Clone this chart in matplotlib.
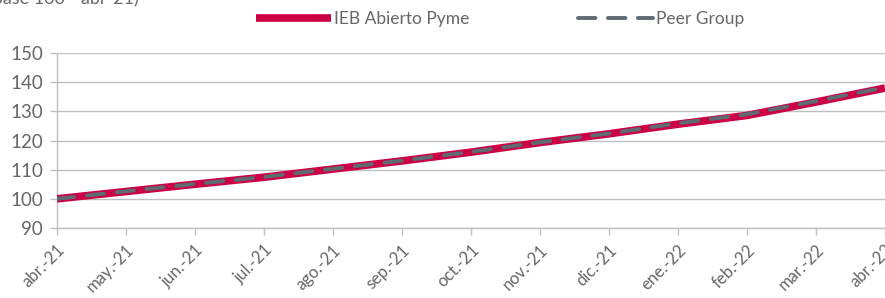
import numpy as np
import matplotlib
matplotlib.use("Agg")
from matplotlib import pyplot as plt

# Data (base 100 = abr-21)
months = ["abr.-21", "may.-21", "jun.-21", "jul.-21", "ago.-21", "sep.-21", "oct.-21",
          "nov.-21", "dic.-21", "ene.-22", "feb.-22", "mar.-22", "abr.-22"]
ieb = [100.0, 102.5, 105.0, 107.4, 110.2, 113.0, 116.0, 119.3, 122.3, 125.6, 128.6, 133.2, 138.0]
peer = [100.0, 102.6, 105.1, 107.5, 110.3, 113.1, 116.1, 119.4, 122.4, 125.9, 129.0, 133.5, 138.2]

plt.rcParams['font.family'] = ['Lato', 'DejaVu Sans']
red = "#cc0044"
gray = "#5f6a72"
txt = "#666666"
grid = "#bfbfbf"

fig = plt.figure(figsize=(8.85, 2.98), dpi=100)
ax = fig.add_axes([0.0644, 0.235, 0.9356, 0.587])

x = np.arange(len(months))
ax.plot(x, ieb, color=red, lw=5.5, solid_capstyle='butt', label="IEB Abierto Pyme", zorder=3)
ax.plot(x, peer, color=gray, lw=2.8, dashes=(4.5, 3.2), dash_capstyle='round',
        label="Peer Group", zorder=4)

ax.set_xlim(0, len(months) - 1)
ax.set_ylim(90, 150)
ax.set_yticks(range(90, 151, 10))
ax.set_xticks(x)
ax.set_xticklabels(months, rotation=45, ha='right', rotation_mode='anchor')
ax.yaxis.grid(True, color=grid, lw=1)
ax.set_axisbelow(True)

for s in ['top', 'right']:
    ax.spines[s].set_visible(False)
for s in ['left', 'bottom']:
    ax.spines[s].set_color(grid)
    ax.spines[s].set_linewidth(1)
ax.tick_params(axis='both', color=grid, length=5, width=1)
ax.tick_params(axis='y', labelsize=13.5, labelcolor=txt, pad=5)
ax.tick_params(axis='x', labelsize=12, labelcolor=txt, pad=5)

fig.legend(loc='center', bbox_to_anchor=(0.565, 0.935), ncol=2, frameon=False,
           handlelength=4.3, handletextpad=0.15, columnspacing=6.3,
           fontsize=12.5, labelcolor=txt)

fig.text(-0.014, 0.985, "(base 100 - abr-21)", fontsize=13, color=txt, va='baseline')

fig.savefig("out.png", dpi=100)
